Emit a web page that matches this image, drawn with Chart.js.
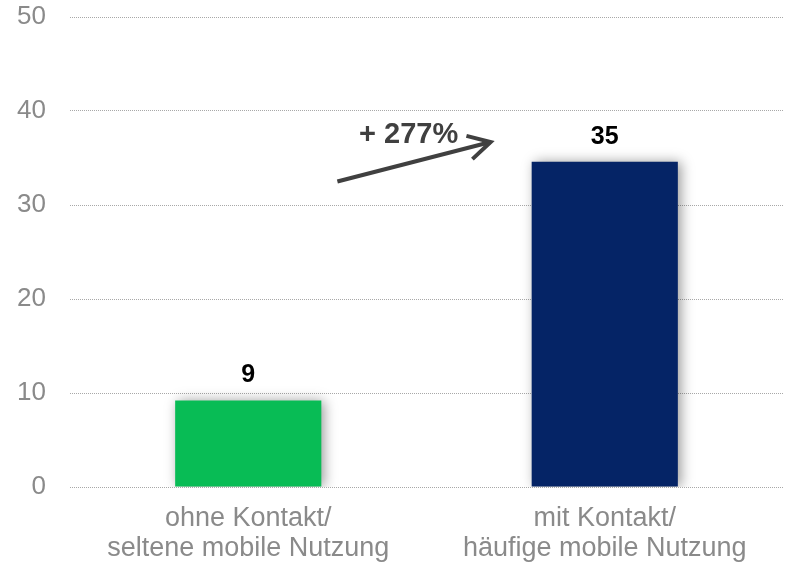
<!DOCTYPE html>
<html>
<head>
<meta charset="utf-8">
<script src="https://cdn.jsdelivr.net/npm/chart.js@4/dist/chart.umd.min.js"></script>
<style>
  html, body { margin: 0; padding: 0; background: #fff; }
  #wrap { width: 788px; height: 564px; position: relative; }
</style>
</head>
<body>
<div id="wrap"><canvas id="chart"></canvas></div>
<script>
// chart data
const categories = [['ohne Kontakt/', 'seltene mobile Nutzung'], ['mit Kontakt/', 'häufige mobile Nutzung']];
const values = [9.2, 34.6];
const valueLabels = ['9', '35'];
const barColors = ['#08bc55', '#052466'];
const yTicks = [0, 10, 20, 30, 40, 50];

// growth arrow, in axis units (category index, value)
const arrowFrom = [0.25, 32.5];
const arrowTo = [0.68, 36.7];
const growthLabel = '+ 277%';
const growthLabelAt = [0.45, 37.4];

const FONT = '"Liberation Sans", Arial, sans-serif';

// soft shadow behind the bars
const barShadow = {
    id: 'barShadow',
    beforeDatasetsDraw(chart) {
        const ctx = chart.ctx;
        ctx.save();
        ctx.shadowColor = 'rgba(0,0,0,0.4)';
        ctx.shadowBlur = 12;
        ctx.shadowOffsetX = 3;
        ctx.shadowOffsetY = 0;
    },
    afterDatasetsDraw(chart) {
        chart.ctx.restore();
    }
};

// numbers above bars + arrow annotation
const annotations = {
    id: 'annotations',
    afterDraw(chart) {
        const ctx = chart.ctx;
        const x = chart.scales.x, y = chart.scales.y;
        const meta = chart.getDatasetMeta(0);

        ctx.save();
        ctx.fillStyle = '#000';
        ctx.font = 'bold 25px ' + FONT;
        ctx.textAlign = 'center';
        ctx.textBaseline = 'middle';
        meta.data.forEach((bar, i) => {
            ctx.fillText(valueLabels[i], bar.x, bar.y - 25);
        });

        // arrow
        const x1 = x.getPixelForValue(arrowFrom[0]), y1 = y.getPixelForValue(arrowFrom[1]);
        const x2 = x.getPixelForValue(arrowTo[0]), y2 = y.getPixelForValue(arrowTo[1]);
        const ang = Math.atan2(y2 - y1, x2 - x1);
        const head = 25;
        ctx.strokeStyle = '#404040';
        ctx.lineWidth = 4;
        ctx.lineCap = 'butt';
        ctx.lineJoin = 'miter';
        ctx.beginPath();
        ctx.moveTo(x1, y1);
        ctx.lineTo(x2, y2);
        ctx.stroke();
        ctx.beginPath();
        ctx.moveTo(x2 - head * Math.cos(ang - 0.5), y2 - head * Math.sin(ang - 0.5));
        ctx.lineTo(x2, y2);
        ctx.lineTo(x2 - head * Math.cos(ang + 0.5), y2 - head * Math.sin(ang + 0.5));
        ctx.stroke();

        ctx.fillStyle = '#404040';
        ctx.font = 'bold 29px ' + FONT;
        ctx.fillText(growthLabel, x.getPixelForValue(growthLabelAt[0]), y.getPixelForValue(growthLabelAt[1]));
        ctx.restore();
    }
};

new Chart(document.getElementById('chart'), {
    type: 'bar',
    data: {
        labels: categories,
        datasets: [{
            data: values,
            backgroundColor: barColors,
            barPercentage: 0.41,
            categoryPercentage: 1
        }]
    },
    options: {
        responsive: true,
        maintainAspectRatio: false,
        animation: false,
        layout: { padding: { top: 0, left: 0, right: 5, bottom: 0 } },
        plugins: {
            legend: { display: false },
            tooltip: { enabled: false }
        },
        scales: {
            x: {
                grid: { display: false, drawTicks: false },
                border: { display: false },
                ticks: {
                    color: '#8a8a8a',
                    padding: 16,
                    font: { family: FONT, size: 27, lineHeight: 1.13 }
                },
                afterFit(scale) {
                    scale.height = 77;
                    scale.paddingLeft = 0;
                    scale.paddingRight = 0;
                }
            },
            y: {
                min: 0,
                max: 50,
                afterBuildTicks(scale) { scale.ticks = yTicks.map(v => ({ value: v })); },
                grid: { color: '#a8a8a8', lineWidth: 1, drawTicks: false },
                border: { display: false, dash: [1, 1] },
                ticks: {
                    color: '#8a8a8a',
                    padding: 24,
                    font: { family: FONT, size: 26 }
                },
                afterFit(scale) {
                    scale.width = 70;
                    scale.paddingTop = 17;
                    scale.paddingBottom = 0;
                }
            }
        }
    },
    plugins: [barShadow, annotations]
});
</script>
</body>
</html>
